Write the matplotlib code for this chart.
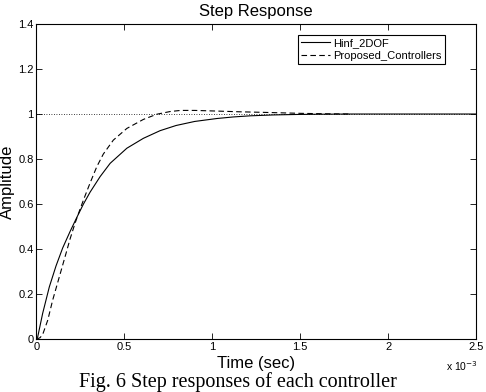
import matplotlib
matplotlib.use("Agg")
import matplotlib.pyplot as plt
from matplotlib.ticker import FuncFormatter

# Time in seconds, amplitude values
t_hinf = [0, 0.007e-3, 0.035e-3, 0.073e-3, 0.111e-3, 0.149e-3, 0.191e-3, 0.229e-3,
          0.267e-3, 0.305e-3, 0.362e-3, 0.419e-3, 0.514e-3, 0.608e-3, 0.703e-3,
          0.794e-3, 0.9e-3, 1.026e-3, 1.12e-3, 1.216e-3, 1.35e-3, 1.48e-3, 1.6e-3,
          1.8e-3, 2.0e-3, 2.5e-3]
y_hinf = [0, 0.01, 0.114, 0.232, 0.325, 0.405, 0.478, 0.54,
          0.6, 0.653, 0.722, 0.781, 0.848, 0.892, 0.926,
          0.949, 0.967, 0.98, 0.987, 0.992, 0.996, 0.998, 0.999,
          1.0, 1.0, 1.0]

t_prop = [0, 0.02e-3, 0.035e-3, 0.064e-3, 0.092e-3, 0.13e-3, 0.168e-3, 0.191e-3,
          0.219e-3, 0.248e-3, 0.276e-3, 0.305e-3, 0.343e-3, 0.38e-3, 0.437e-3,
          0.514e-3, 0.608e-3, 0.684e-3, 0.76e-3, 0.82e-3, 0.9e-3, 1.03e-3, 1.15e-3,
          1.31e-3, 1.5e-3, 1.65e-3, 1.785e-3]
y_prop = [0, 0.006, 0.02, 0.084, 0.173, 0.277, 0.381, 0.445,
          0.514, 0.578, 0.636, 0.694, 0.766, 0.822, 0.884,
          0.936, 0.976, 0.999, 1.011, 1.016, 1.016, 1.013, 1.01,
          1.007, 1.003, 1.001, 1.0]

steady_t = [0, 2.5e-3]
steady_y = [1, 1]

series_labels = ["Hinf_2DOF", "Proposed_Controllers"]
x_ticks = [0, 0.5e-3, 1.0e-3, 1.5e-3, 2.0e-3, 2.5e-3]
y_ticks = [0, 0.2, 0.4, 0.6, 0.8, 1.0, 1.2, 1.4]

plt.rcParams['font.family'] = ['Liberation Sans', 'DejaVu Sans']

fig = plt.figure(figsize=(4.86, 3.92), dpi=100)
ax = fig.add_axes([0.0751, 0.135, 0.9043, 0.8038])

ax.plot(steady_t, steady_y, color='black', linestyle=(0, (1, 2)), lw=0.6)
ax.plot(t_hinf, y_hinf, color='black', lw=0.8, label=series_labels[0])
ax.plot(t_prop, y_prop, color='black', lw=0.8, dashes=(5, 3), label=series_labels[1])

ax.set_xlim(0, 2.5e-3)
ax.set_ylim(0, 1.4)
ax.set_xticks(x_ticks)
ax.set_yticks(y_ticks)
ax.xaxis.set_major_formatter(FuncFormatter(lambda v, p: f"{v*1e3:g}"))
ax.yaxis.set_major_formatter(FuncFormatter(lambda v, p: f"{v:g}"))
ax.tick_params(direction='in', top=True, right=True, length=4, width=0.6,
               labelsize=8, pad=2)
for s in ax.spines.values():
    s.set_linewidth(0.8)

ax.set_title("Step Response", fontsize=12, pad=6)
ax.set_xlabel("Time (sec)", fontsize=12, labelpad=3)
ax.set_ylabel("Amplitude", fontsize=12, labelpad=2)

fig.text(0.918, 0.066, r"x 10$^{-3}$", fontsize=7.5, ha='left', va='center')

leg = ax.legend(loc='upper right', bbox_to_anchor=(0.929, 0.965), fontsize=8,
                frameon=True, fancybox=False, edgecolor='black', framealpha=1,
                handlelength=2.6, handletextpad=0.3, borderpad=0.3, labelspacing=0.2,
                borderaxespad=0)
leg.get_frame().set_linewidth(0.8)

fig.text(0.49, 0.014, "Fig. 6 Step responses of each controller",
         family=['Liberation Serif', 'DejaVu Serif'], fontsize=14.5, ha='center', va='baseline')

fig.savefig("out.png", dpi=100)
